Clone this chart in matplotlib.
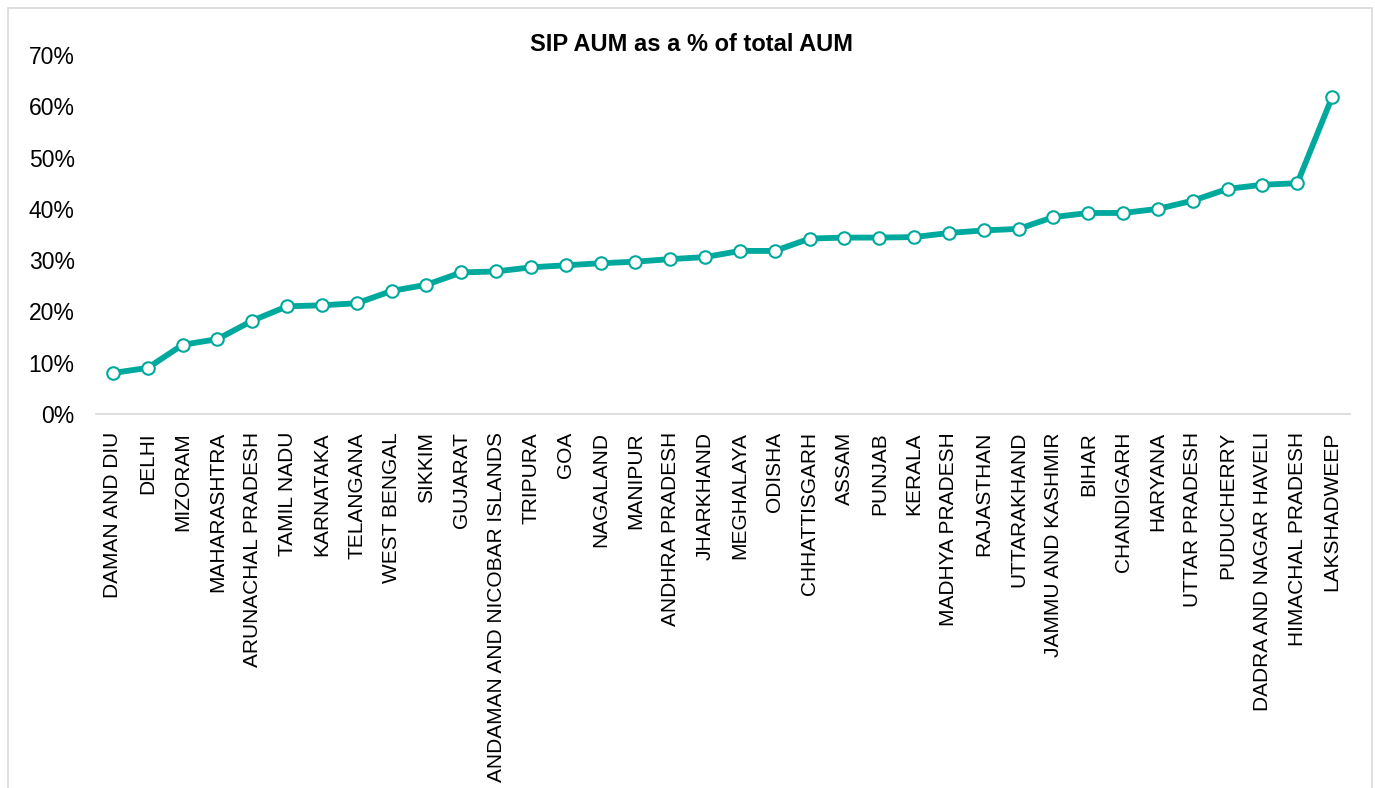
import matplotlib
matplotlib.use("Agg")
import matplotlib.pyplot as plt
from matplotlib.patches import Rectangle
from matplotlib.ticker import FuncFormatter

plt.rcParams['font.family'] = ['Liberation Sans', 'DejaVu Sans']

# Données
states = [
    "DAMAN AND DIU", "DELHI", "MIZORAM", "MAHARASHTRA", "ARUNACHAL PRADESH",
    "TAMIL NADU", "KARNATAKA", "TELANGANA", "WEST BENGAL", "SIKKIM",
    "GUJARAT", "ANDAMAN AND NICOBAR ISLANDS", "TRIPURA", "GOA", "NAGALAND",
    "MANIPUR", "ANDHRA PRADESH", "JHARKHAND", "MEGHALAYA", "ODISHA",
    "CHHATTISGARH", "ASSAM", "PUNJAB", "KERALA", "MADHYA PRADESH",
    "RAJASTHAN", "UTTARAKHAND", "JAMMU AND KASHMIR", "BIHAR", "CHANDIGARH",
    "HARYANA", "UTTAR PRADESH", "PUDUCHERRY", "DADRA AND NAGAR HAVELI",
    "HIMACHAL PRADESH", "LAKSHADWEEP",
]
sip_share = [
    0.080, 0.090, 0.135, 0.146, 0.182, 0.210, 0.212, 0.216, 0.240, 0.252,
    0.276, 0.278, 0.286, 0.290, 0.294, 0.297, 0.302, 0.306, 0.318, 0.318,
    0.342, 0.344, 0.344, 0.345, 0.353, 0.358, 0.361, 0.384, 0.392, 0.392,
    0.400, 0.416, 0.439, 0.447, 0.450, 0.618,
]
y_ticks = [0, 0.1, 0.2, 0.3, 0.4, 0.5, 0.6, 0.7]
title = "SIP AUM as a % of total AUM"

teal = "#00A99D"

fig = plt.figure(figsize=(13.75, 7.88), dpi=100)
ax = fig.add_axes([0.0695, 0.4746, 0.912, 0.4556])

x = range(len(states))
ax.plot(x, sip_share, color=teal, linewidth=4.2, marker="o", markersize=9,
        markerfacecolor="white", markeredgecolor=teal, markeredgewidth=1.5,
        zorder=3, clip_on=False)

ax.set_xlim(-0.5, len(states) - 0.5)
ax.set_ylim(0, 0.7)
ax.set_yticks(y_ticks)
ax.yaxis.set_major_formatter(FuncFormatter(lambda v, p: f"{v * 100:.0f}%"))
ax.set_xticks(list(x))
ax.set_xticklabels(states, rotation=90, fontsize=15, va="top")

ax.tick_params(axis="y", length=0, pad=15, labelsize=16.5)
ax.tick_params(axis="x", length=0, pad=13)

for side in ["top", "right", "left"]:
    ax.spines[side].set_visible(False)
ax.spines["bottom"].set_color("#D9D9D9")
ax.spines["bottom"].set_linewidth(1.2)

# Cadre du graphique (style Excel)
fig.patches.append(Rectangle((8 / 1375, -0.05), (1372 - 8) / 1375, 1 - 8 / 788 + 0.05,
                             transform=fig.transFigure, fill=False,
                             edgecolor="#D9D9D9", linewidth=1.2))

fig.text(0.503, 0.943, title, ha="center", va="center", fontsize=17, fontweight="bold")

fig.savefig("out.png", dpi=100)
